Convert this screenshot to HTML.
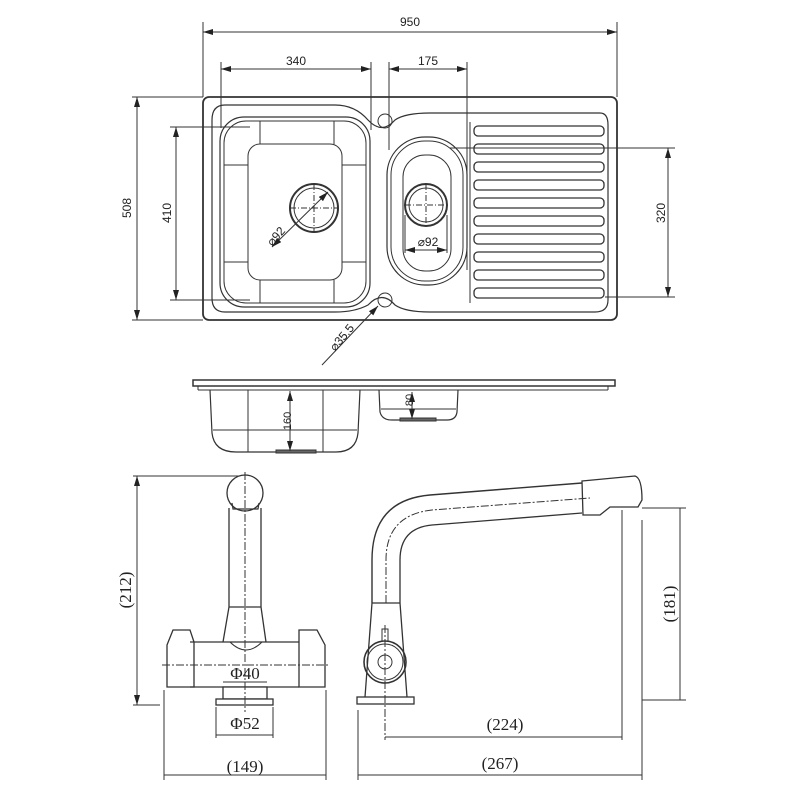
<!DOCTYPE html>
<html><head><meta charset="utf-8"><style>
html,body{margin:0;padding:0;background:#fff}
svg{display:block}
text{font-family:"Liberation Sans",sans-serif;fill:#222}
.s{font-family:"Liberation Serif",serif}
</style></head><body>
<svg width="800" height="800" viewBox="0 0 800 800" xmlns="http://www.w3.org/2000/svg">
<defs>
<marker id="a" viewBox="0 0 10 6" refX="10" refY="3" markerWidth="10" markerHeight="6" orient="auto-start-reverse" markerUnits="userSpaceOnUse"><path d="M0,0L10,3L0,6z" fill="#222"/></marker>
</defs>
<g fill="none" stroke="#333" stroke-width="1">
<line x1="203" y1="22" x2="203" y2="97"/><line x1="617" y1="22" x2="617" y2="97"/>
<line x1="203" y1="32" x2="617" y2="32" marker-start="url(#a)" marker-end="url(#a)"/>
<line x1="221" y1="62" x2="221" y2="128"/><line x1="371" y1="62" x2="371" y2="130"/>
<line x1="221" y1="69" x2="371" y2="69" marker-start="url(#a)" marker-end="url(#a)"/>
<line x1="389" y1="62" x2="389" y2="150"/><line x1="467" y1="62" x2="467" y2="270"/>
<line x1="389" y1="69" x2="467" y2="69" marker-start="url(#a)" marker-end="url(#a)"/>
<line x1="132" y1="97" x2="203" y2="97"/><line x1="132" y1="320" x2="203" y2="320"/>
<line x1="137" y1="97" x2="137" y2="320" marker-start="url(#a)" marker-end="url(#a)"/>
<line x1="170" y1="127" x2="250" y2="127"/><line x1="170" y1="300" x2="250" y2="300"/>
<line x1="176" y1="127" x2="176" y2="300" marker-start="url(#a)" marker-end="url(#a)"/>
<line x1="450" y1="148" x2="675" y2="148"/><line x1="605" y1="297" x2="675" y2="297"/>
<line x1="668" y1="148" x2="668" y2="297" marker-start="url(#a)" marker-end="url(#a)"/>
<rect x="203" y="97" width="414" height="223" rx="6" stroke-width="1.8"/>
<path d="M225,105 H335 Q355,105 368,120 Q382,135 395,120 Q405,113 430,113 H600 Q608,113 608,125 V300 Q608,312 595,312 H430 Q405,312 395,305 Q382,290 368,305 Q355,312 335,312 H225 Q212,312 212,298 V120 Q212,105 225,105Z" stroke-width="1.2"/>
<rect x="220" y="117" width="150" height="190" rx="24" stroke-width="1.2"/>
<rect x="224" y="121" width="142" height="182" rx="22"/>
<rect x="248" y="144" width="94" height="136" rx="12"/>
<line x1="260" y1="121" x2="260" y2="144"/><line x1="334" y1="121" x2="334" y2="144"/>
<line x1="260" y1="280" x2="260" y2="303"/><line x1="334" y1="280" x2="334" y2="303"/>
<line x1="224" y1="165" x2="248" y2="165"/><line x1="342" y1="165" x2="366" y2="165"/>
<line x1="224" y1="262" x2="248" y2="262"/><line x1="342" y1="262" x2="366" y2="262"/>
<circle cx="314" cy="208" r="24" stroke-width="2"/><circle cx="314" cy="208" r="20"/>
<line x1="290" y1="208" x2="338" y2="208" stroke-dasharray="6 2 1 2"/><line x1="314" y1="184" x2="314" y2="232" stroke-dasharray="6 2 1 2"/>
<line x1="272" y1="247" x2="328" y2="192" marker-start="url(#a)" marker-end="url(#a)"/>
<rect x="387" y="137" width="80" height="148" rx="38" stroke-width="1.2"/>
<rect x="391" y="141" width="72" height="140" rx="34"/>
<rect x="403" y="155" width="48" height="116" rx="22"/>
<circle cx="426" cy="205" r="21" stroke-width="2"/><circle cx="426" cy="205" r="17"/>
<line x1="405" y1="205" x2="447" y2="205" stroke-dasharray="6 2 1 2"/><line x1="426" y1="184" x2="426" y2="226" stroke-dasharray="6 2 1 2"/>
<line x1="405" y1="215" x2="405" y2="253"/><line x1="447" y1="215" x2="447" y2="253"/>
<line x1="405" y1="250" x2="447" y2="250" marker-start="url(#a)" marker-end="url(#a)"/>
<line x1="470" y1="122" x2="470" y2="303"/>
<g stroke-width="1.3">
<rect x="474" y="126" width="130" height="10" rx="4"/><rect x="474" y="144" width="130" height="10" rx="4"/>
<rect x="474" y="162" width="130" height="10" rx="4"/><rect x="474" y="180" width="130" height="10" rx="4"/>
<rect x="474" y="198" width="130" height="10" rx="4"/><rect x="474" y="216" width="130" height="10" rx="4"/>
<rect x="474" y="234" width="130" height="10" rx="4"/><rect x="474" y="252" width="130" height="10" rx="4"/>
<rect x="474" y="270" width="130" height="10" rx="4"/><rect x="474" y="288" width="130" height="10" rx="4"/>
</g>
<circle cx="385" cy="121" r="7"/><circle cx="385" cy="300" r="7"/>
<line x1="378" y1="306" x2="322" y2="365" marker-start="url(#a)"/>
<path d="M193,380 H615 V386 H193Z" stroke-width="1.5"/>
<line x1="198" y1="386" x2="198" y2="390"/><line x1="608" y1="386" x2="608" y2="390"/>
<line x1="198" y1="390" x2="608" y2="390"/>
<path d="M210,390 L212,433 Q214,452 236,452 H336 Q356,452 358,433 L360,390" stroke-width="1.2"/>
<line x1="213" y1="430" x2="357" y2="430"/>
<line x1="248" y1="390" x2="248" y2="452"/><line x1="323" y1="390" x2="323" y2="452"/>
<rect x="276" y="450" width="40" height="3" fill="#666"/>
<line x1="290" y1="391" x2="290" y2="451" marker-start="url(#a)" marker-end="url(#a)"/>
<path d="M379,390 L380,412 Q382,420 392,420 H447 Q456,420 457,412 L458,390" stroke-width="1.2"/>
<line x1="381" y1="409" x2="456" y2="409"/>
<rect x="400" y="418" width="36" height="3" fill="#666"/>
<line x1="412" y1="406" x2="412" y2="392" marker-end="url(#a)"/><line x1="412" y1="406" x2="412" y2="419" marker-end="url(#a)"/>
<!-- left tap -->
<line x1="133" y1="476" x2="240" y2="476"/><line x1="133" y1="705" x2="160" y2="705"/>
<line x1="137" y1="476" x2="137" y2="705" marker-start="url(#a)" marker-end="url(#a)"/>
<circle cx="245" cy="493" r="18" stroke-width="1.3"/>
<path d="M232,503 L233,509 H258 L259,503" stroke-width="1.2"/>
<path d="M229,508 V607 L223,642 M261,508 V607 L266,642 M229,607 H261" stroke-width="1.3"/>
<path d="M230,642 Q246,658 262,642" />
<path d="M190,642 H299 M190,687 H299" stroke-width="1.3"/>
<path d="M173,630 H190 L194,642 V687 H167 V645Z" stroke-width="1.3"/>
<path d="M299,630 H317 L325,645 V687 H299Z" stroke-width="1.3"/>
<rect x="223" y="687" width="44" height="12" fill="#fff" stroke-width="1.3"/>
<rect x="216" y="699" width="57" height="6" fill="#fff" stroke-width="1.3"/>
<line x1="245" y1="472" x2="245" y2="712" stroke-dasharray="8 2 2 2"/>
<line x1="162" y1="665" x2="328" y2="665" stroke-dasharray="8 2 2 2"/>
<line x1="223" y1="682" x2="267" y2="682"/>
<line x1="216" y1="707" x2="216" y2="738"/><line x1="273" y1="707" x2="273" y2="738"/>
<line x1="216" y1="735" x2="273" y2="735"/>
<line x1="164" y1="690" x2="164" y2="780"/><line x1="326" y1="690" x2="326" y2="780"/>
<line x1="164" y1="775" x2="326" y2="775"/>
<!-- right tap -->
<path d="M372,603 V560 Q372,500 430,495 L582,483" stroke-width="1.4"/>
<path d="M400,603 V560 Q400,528 432,525 L582,513" stroke-width="1.3"/>
<path d="M386,603 V560 Q386,515 432,510 L590,498" stroke-dasharray="8 2 2 2"/>
<path d="M582,481 L635,476 Q642,478 642,500 L638,507 L610,507 L600,515 L583,515Z" stroke-width="1.3"/>
<line x1="622" y1="510" x2="622" y2="740"/>
<path d="M372,603 L365,697 M400,603 L407,697 M372,603 H400" stroke-width="1.3"/>
<rect x="357" y="697" width="57" height="7" stroke-width="1.3"/>
<circle cx="385" cy="662" r="21" stroke-width="1.6"/><circle cx="385" cy="662" r="18"/><circle cx="385" cy="662" r="7"/>
<rect x="382" y="629" width="6" height="12"/>
<line x1="385" y1="625" x2="385" y2="740" stroke-dasharray="8 2 2 2"/>
<line x1="642" y1="508" x2="686" y2="508"/><line x1="642" y1="700" x2="686" y2="700"/>
<line x1="680" y1="508" x2="680" y2="700"/>
<line x1="358" y1="710" x2="358" y2="780"/><line x1="642" y1="520" x2="642" y2="780"/>
<line x1="385" y1="737" x2="622" y2="737"/>
<line x1="358" y1="775" x2="642" y2="775"/>
</g>
<g font-size="12">
<text x="410" y="26" text-anchor="middle">950</text>
<text x="296" y="65" text-anchor="middle">340</text>
<text x="428" y="65" text-anchor="middle">175</text>
<text transform="translate(131,208) rotate(-90)" text-anchor="middle">508</text>
<text transform="translate(171,213) rotate(-90)" text-anchor="middle">410</text>
<text transform="translate(665,213) rotate(-90)" text-anchor="middle">320</text>
<text transform="translate(279,239) rotate(-48)" text-anchor="middle">⌀92</text>
<text x="428" y="246" text-anchor="middle">⌀92</text>
<text transform="translate(345,340) rotate(-50)" text-anchor="middle">⌀35.5</text>
<text transform="translate(291,421) rotate(-90)" text-anchor="middle" font-size="11">160</text>
<text transform="translate(413,400) rotate(-90)" text-anchor="middle" font-size="11">80</text>
</g>
<g font-size="17">
<text class="s" transform="translate(131,590) rotate(-90)" text-anchor="middle">(212)</text>
<text class="s" transform="translate(675,604) rotate(-90)" text-anchor="middle">(181)</text>
<text class="s" x="245" y="679" text-anchor="middle">Φ40</text>
<text class="s" x="245" y="729" text-anchor="middle">Φ52</text>
<text class="s" x="245" y="772" text-anchor="middle">(149)</text>
<text class="s" x="505" y="730" text-anchor="middle">(224)</text>
<text class="s" x="500" y="769" text-anchor="middle">(267)</text>
</g>
</svg>
</body></html>
